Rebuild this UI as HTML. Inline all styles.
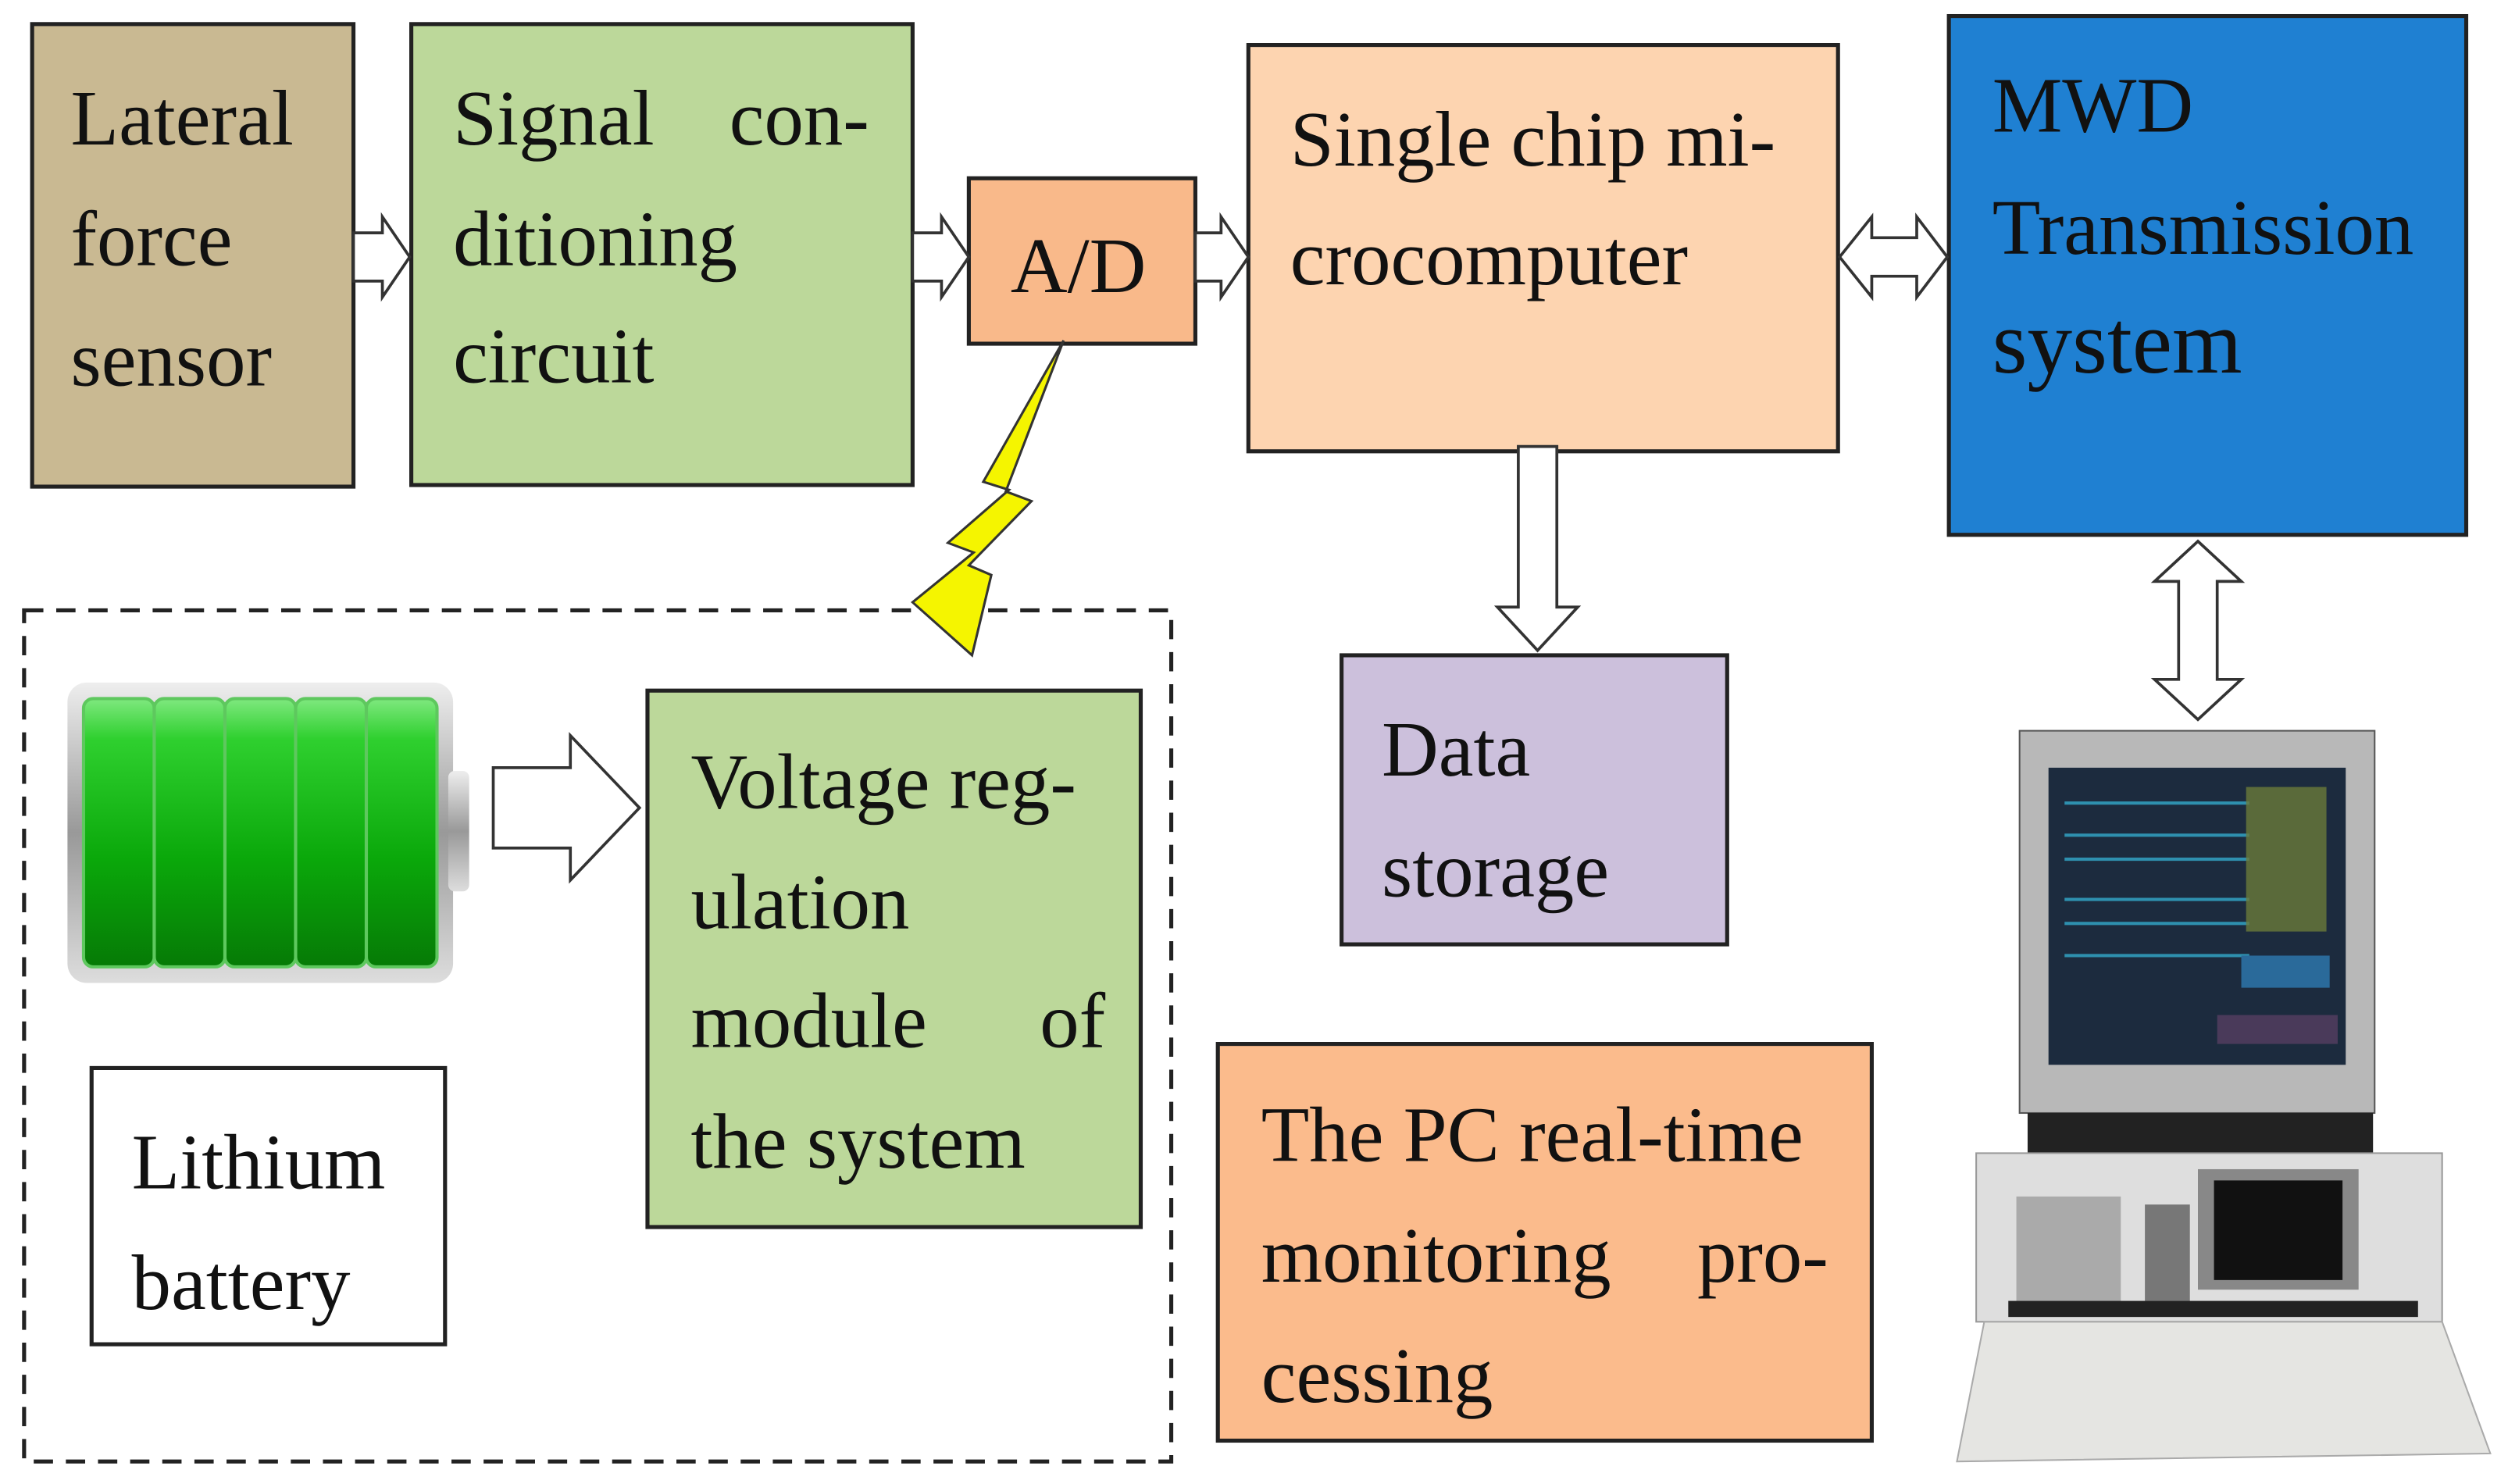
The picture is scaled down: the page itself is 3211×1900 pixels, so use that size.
<!DOCTYPE html>
<html><head><meta charset="utf-8"><style>
html,body{margin:0;padding:0;background:#fff;}
svg{display:block;}
text{font-family:"Liberation Serif",serif;font-size:49px;fill:#111;}
</style></head><body>
<svg width="3211" height="1900" viewBox="0 0 1561 924" preserveAspectRatio="none" xmlns="http://www.w3.org/2000/svg">
<defs>
<linearGradient id="g" x1="0" y1="0" x2="0" y2="1">
<stop offset="0" stop-color="#7fe87f"/><stop offset="0.15" stop-color="#2fd02f"/><stop offset="0.6" stop-color="#0aa80a"/><stop offset="1" stop-color="#067a06"/>
</linearGradient>
<linearGradient id="s" x1="0" y1="0" x2="0" y2="1">
<stop offset="0" stop-color="#eee"/><stop offset="0.5" stop-color="#999"/><stop offset="1" stop-color="#ddd"/>
</linearGradient>
</defs>
<g stroke="#222" stroke-width="2.5">
<rect x="20" y="15" width="200" height="288" fill="#c9b992"/>
<rect x="256" y="15" width="312" height="287" fill="#bcd89a"/>
<rect x="603" y="111" width="141" height="103" fill="#f9b98a"/>
<rect x="777" y="28" width="367" height="253" fill="#fdd4b0"/>
<rect x="1213" y="10" width="322" height="323" fill="#1f80d2"/>
<rect x="835" y="408" width="240" height="180" fill="#ccc0dc"/>
<rect x="57" y="665" width="220" height="172" fill="#fff"/>
<rect x="403" y="430" width="307" height="334" fill="#bcd89a"/>
<rect x="758" y="650" width="407" height="247" fill="#fbbb8c"/>
</g>
<rect x="15" y="380" width="714" height="530" fill="none" stroke="#222" stroke-width="2.5" stroke-dasharray="12,8"/>
<g fill="#fff" stroke="#333" stroke-width="1.8">
<polygon points="220,145 238,145 238,135 255,160 238,185 238,175 220,175"/>
<polygon points="568,145 586,145 586,135 603,160 586,185 586,175 568,175"/>
<polygon points="744,145 760,145 760,135 777,160 760,185 760,175 744,175"/>
<polygon points="1145,160 1165,135 1165,148 1193,148 1193,135 1212,160 1193,185 1193,172 1165,172 1165,185"/>
<polygon points="945,278 969,278 969,378 982,378 957,405 932,378 945,378"/>
<polygon points="1368,337 1395,362 1380,362 1380,423 1395,423 1368,448 1341,423 1356,423 1356,362 1341,362"/>
<polygon points="307,478 355,478 355,458 398,503 355,548 355,528 307,528"/>
</g>
<polygon points="662,212 612,300 628,305 590,338 606,344 568,375 605,408 617,358 603,352 642,312 626,306" fill="#f5f500" stroke="#333" stroke-width="1.5"/>
<rect x="42" y="425" width="240" height="187" rx="12" fill="url(#s)"/>
<rect x="279" y="480" width="13" height="75" rx="4" fill="url(#s)"/>
<g fill="url(#g)" stroke="#5ec85e" stroke-width="2">
<rect x="52" y="435" width="44" height="167" rx="6"/>
<rect x="96" y="435" width="44" height="167" rx="6"/>
<rect x="140" y="435" width="44" height="167" rx="6"/>
<rect x="184" y="435" width="44" height="167" rx="6"/>
<rect x="228" y="435" width="44" height="167" rx="6"/>
</g>
<rect x="1257" y="455" width="221" height="238" fill="#b8b8b8" stroke="#555"/>
<rect x="1275" y="478" width="185" height="185" fill="#1c2b3e"/>
<g stroke="#3ac" stroke-width="2" opacity="0.8">
<line x1="1285" y1="500" x2="1400" y2="500"/><line x1="1285" y1="520" x2="1400" y2="520"/><line x1="1285" y1="535" x2="1400" y2="535"/>
<line x1="1285" y1="560" x2="1400" y2="560"/><line x1="1285" y1="575" x2="1400" y2="575"/><line x1="1285" y1="595" x2="1400" y2="595"/>
</g>
<rect x="1398" y="490" width="50" height="90" fill="#6a7a3a" opacity="0.8"/>
<rect x="1395" y="595" width="55" height="20" fill="#2a6a9a"/>
<rect x="1380" y="632" width="75" height="18" fill="#4a3a5a"/>
<rect x="1262" y="693" width="215" height="25" fill="#222"/>
<rect x="1230" y="718" width="290" height="105" fill="#dedede" stroke="#999"/>
<rect x="1255" y="745" width="65" height="70" fill="#aaa"/>
<rect x="1335" y="750" width="28" height="60" fill="#777"/>
<rect x="1368" y="728" width="100" height="75" fill="#888"/>
<rect x="1378" y="735" width="80" height="62" fill="#111"/>
<rect x="1250" y="810" width="255" height="10" fill="#222"/>
<polygon points="1235,823 1520,823 1550,905 1218,910" fill="#e5e5e2" stroke="#aaa"/>
<text x="44" y="90">Lateral</text>
<text x="44" y="165">force</text>
<text x="44" y="240">sensor</text>
<text x="282" y="90">Signal</text>
<text x="541" y="90" text-anchor="end">con-</text>
<text x="282" y="165">ditioning</text>
<text x="282" y="238">circuit</text>
<text x="629" y="182">A/D</text>
<text x="803" y="103">Single chip mi-</text>
<text x="803" y="177">crocomputer</text>
<text x="1240" y="82">MWD</text>
<text x="1240" y="158">Transmission</text>
<text x="1240" y="232" style="font-size:56px">system</text>
<text x="860" y="483">Data</text>
<text x="860" y="558">storage</text>
<text x="82" y="740">Lithium</text>
<text x="82" y="815">battery</text>
<text x="430" y="503">Voltage reg-</text>
<text x="430" y="578">ulation</text>
<text x="430" y="652">module</text>
<text x="688" y="652" text-anchor="end">of</text>
<text x="430" y="727">the system</text>
<text x="785" y="723">The PC real-time</text>
<text x="785" y="798">monitoring</text>
<text x="1138" y="798" text-anchor="end">pro-</text>
<text x="785" y="873">cessing</text>
</svg>
</body></html>
